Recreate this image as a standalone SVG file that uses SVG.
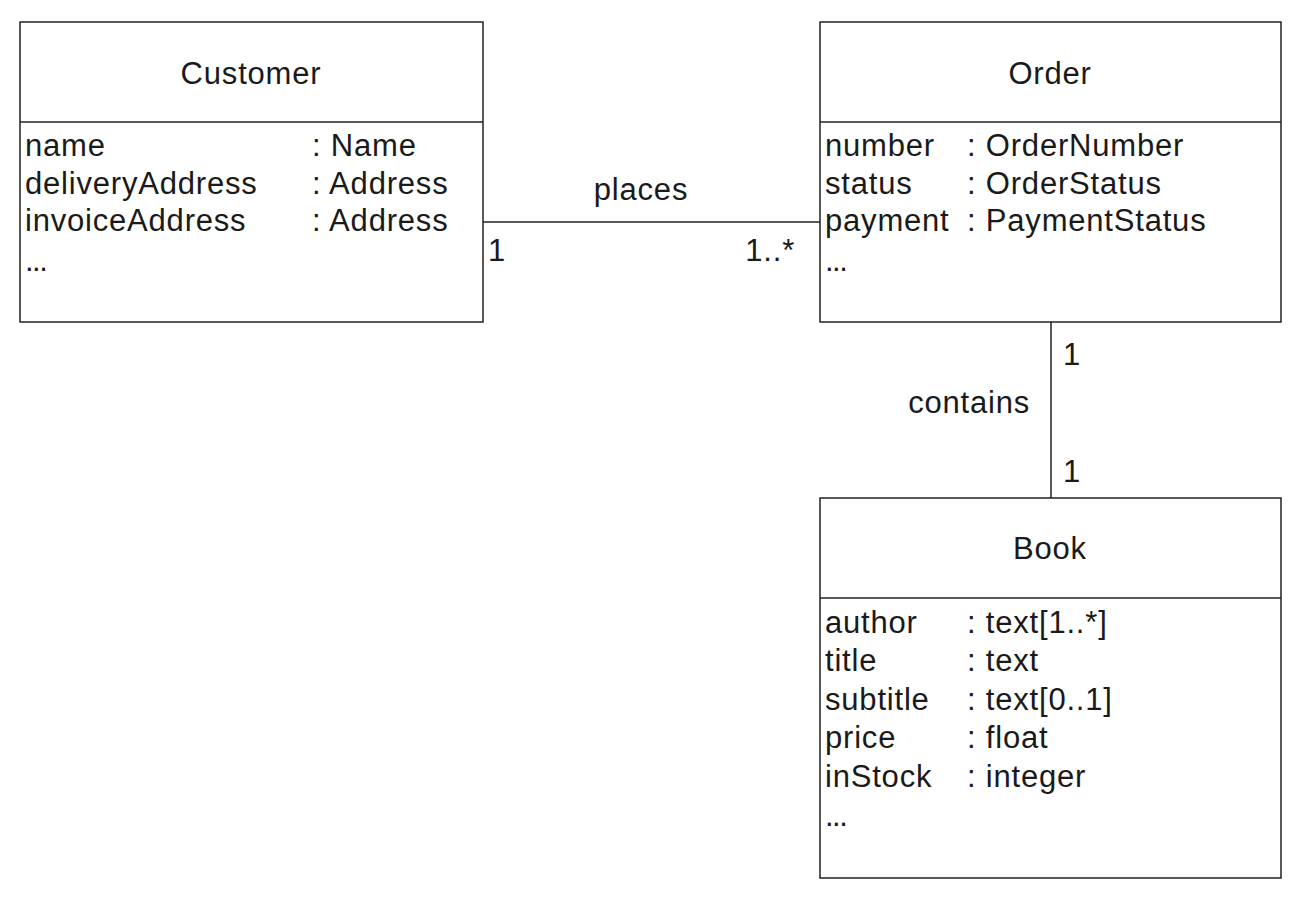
<svg xmlns="http://www.w3.org/2000/svg" width="1300" height="900" viewBox="0 0 1300 900">
<style>
.box{fill:#fff;stroke:#222;stroke-width:1.5}
.div{stroke:#222;stroke-width:1.5}
.conn{stroke:#222;stroke-width:1.5;fill:none}
text{font-family:"Liberation Sans",Arial,sans-serif;font-size:31px;fill:#1a1a1a;letter-spacing:0.8px}
.title{text-anchor:middle}
.ell{letter-spacing:-1.5px}
</style>
<rect width="1300" height="900" fill="#fff"/>
<g id="connectors">
<line class="conn" x1="483" y1="222" x2="820" y2="222"/>
<line class="conn" x1="1051" y1="322" x2="1051" y2="498"/>
<text x="641" y="200" class="title">places</text>
<text x="488" y="261">1</text>
<text x="795" y="261" text-anchor="end">1..*</text>
<text x="1030" y="413" text-anchor="end">contains</text>
<text x="1063" y="365">1</text>
<text x="1063" y="482">1</text>
</g>
<g id="customer">
<rect class="box" x="20" y="22" width="463" height="300"/>
<line class="div" x1="20" y1="122" x2="483" y2="122"/>
<text x="251" y="84" class="title">Customer</text>
<text x="25" y="156">name</text><text x="312" y="156">: Name</text>
<text x="25" y="193.5">deliveryAddress</text><text x="312" y="193.5">: Address</text>
<text x="25" y="231">invoiceAddress</text><text x="312" y="231">: Address</text>
<text x="25" y="271" class="ell">...</text>
</g>
<g id="order">
<rect class="box" x="820" y="22" width="461" height="300"/>
<line class="div" x1="820" y1="122" x2="1281" y2="122"/>
<text x="1050" y="84" class="title">Order</text>
<text x="825" y="156">number</text><text x="967" y="156">: OrderNumber</text>
<text x="825" y="193.5">status</text><text x="967" y="193.5">: OrderStatus</text>
<text x="825" y="231">payment</text><text x="967" y="231">: PaymentStatus</text>
<text x="825" y="271" class="ell">...</text>
</g>
<g id="book">
<rect class="box" x="820" y="498" width="461" height="380"/>
<line class="div" x1="820" y1="598" x2="1281" y2="598"/>
<text x="1050" y="559" class="title">Book</text>
<text x="825" y="633">author</text><text x="967" y="633">: text[1..*]</text>
<text x="825" y="671">title</text><text x="967" y="671">: text</text>
<text x="825" y="710">subtitle</text><text x="967" y="710">: text[0..1]</text>
<text x="825" y="748">price</text><text x="967" y="748">: float</text>
<text x="825" y="787">inStock</text><text x="967" y="787">: integer</text>
<text x="825" y="826" class="ell">...</text>
</g>
</svg>
